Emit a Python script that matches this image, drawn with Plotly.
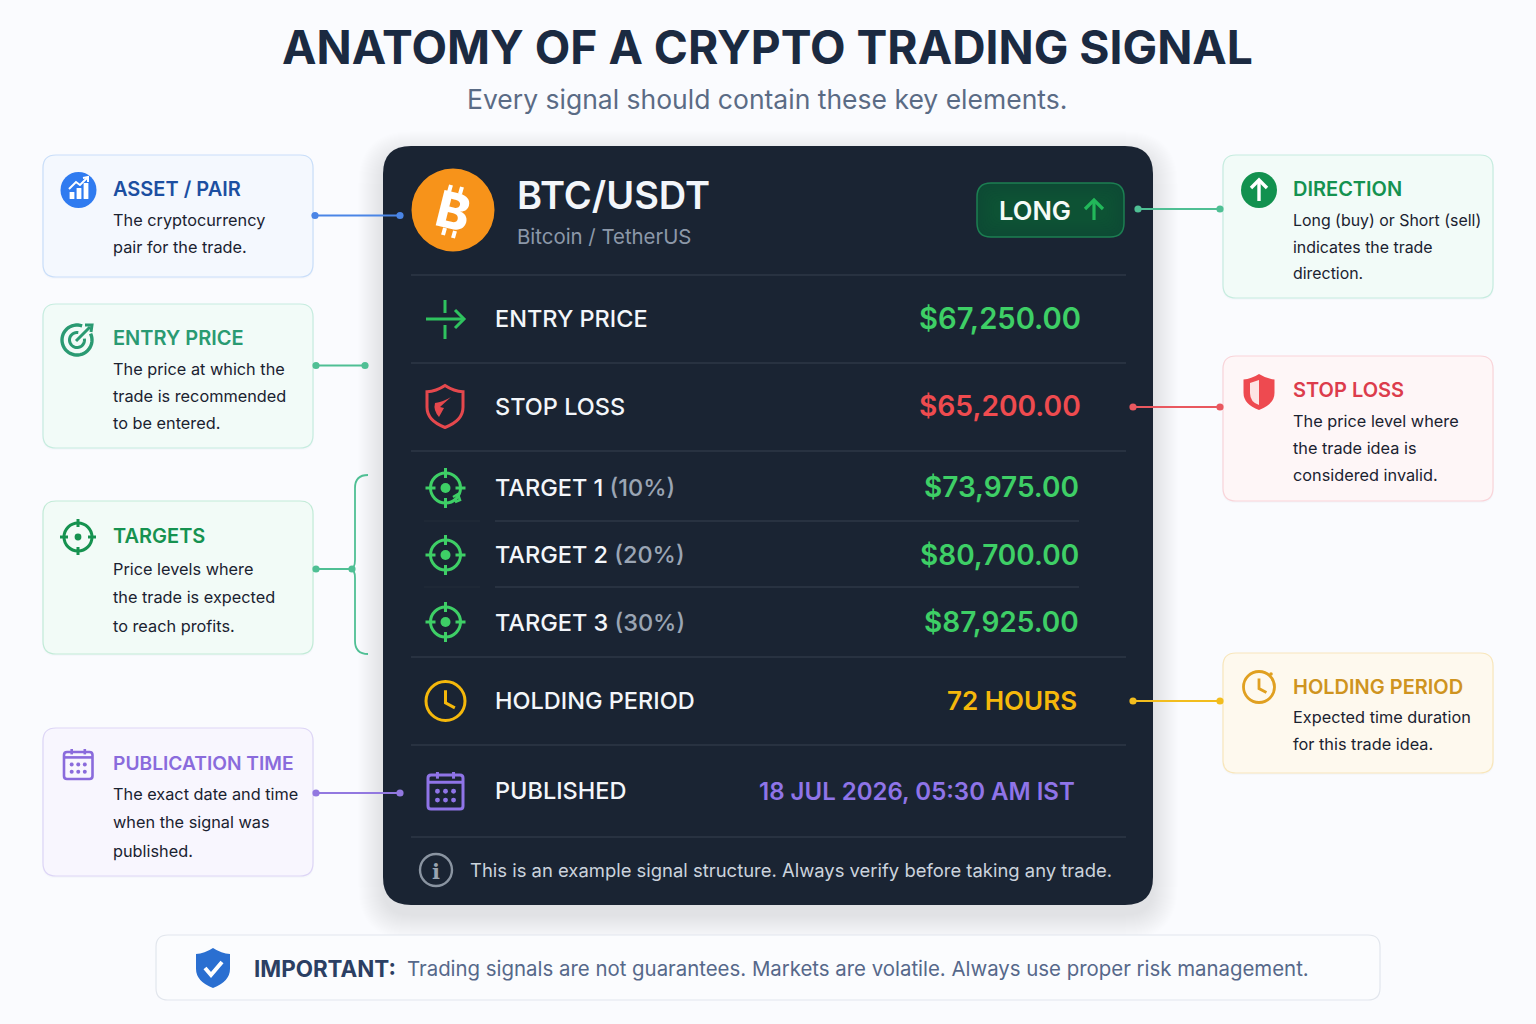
from __future__ import annotations

import math

import plotly.graph_objects as go

WIDTH = 1536
HEIGHT = 1024
FONT = "Inter"

TITLE = "ANATOMY OF A CRYPTO TRADING SIGNAL"
SUBTITLE = "Every signal should contain these key elements."

PAIR = "BTC/USDT"
PAIR_NAME = "Bitcoin / TetherUS"
SIDE = "LONG"

ROW_LABELS = ["ENTRY PRICE", "STOP LOSS", "TARGET 1", "TARGET 2", "TARGET 3", "HOLDING PERIOD", "PUBLISHED"]
ROW_NOTES = ["", "", "(10%)", "(20%)", "(30%)", "", ""]
ROW_VALUES = [
    "$67,250.00",
    "$65,200.00",
    "$73,975.00",
    "$80,700.00",
    "$87,925.00",
    "72 HOURS",
    "18 JUL 2026, 05:30 AM IST",
]
FOOTNOTE = "This is an example signal structure. Always verify before taking any trade."

LEFT_TITLES = ["ASSET / PAIR", "ENTRY PRICE", "TARGETS", "PUBLICATION TIME"]
LEFT_LINES = [
    ["The cryptocurrency", "pair for the trade."],
    ["The price at which the", "trade is recommended", "to be entered."],
    ["Price levels where", "the trade is expected", "to reach profits."],
    ["The exact date and time", "when the signal was", "published."],
]
RIGHT_TITLES = ["DIRECTION", "STOP LOSS", "HOLDING PERIOD"]
RIGHT_LINES = [
    ["Long (buy) or Short (sell)", "indicates the trade", "direction."],
    ["The price level where", "the trade idea is", "considered invalid."],
    ["Expected time duration", "for this trade idea."],
]

NOTICE_HEAD = "IMPORTANT:"
NOTICE_BODY = "Trading signals are not guarantees. Markets are volatile. Always use proper risk management."

BG = "#fafbfe"
CARD = "#1a2433"
RULE = "#364151"
GREEN = "#3ecf66"
RED = "#ef4b4f"
AMBER = "#f5b80b"
PURPLE = "#8f74e8"

shapes: list[dict] = []
notes: list[dict] = []


def _rounded(x0: float, y0: float, x1: float, y1: float, r: float) -> str:
    return (
        f"M{x0 + r},{y0} L{x1 - r},{y0} Q{x1},{y0} {x1},{y0 + r} "
        f"L{x1},{y1 - r} Q{x1},{y1} {x1 - r},{y1} "
        f"L{x0 + r},{y1} Q{x0},{y1} {x0},{y1 - r} "
        f"L{x0},{y0 + r} Q{x0},{y0} {x0 + r},{y0} Z"
    )


def _box(x0, y0, x1, y1, r, fill, line=None, width=1.0) -> None:
    shapes.append(
        dict(
            type="path",
            path=_rounded(x0, y0, x1, y1, r),
            fillcolor=fill,
            line=dict(color=line or "rgba(0,0,0,0)", width=width if line else 0),
        )
    )


def _poly(points, color, width=2.0, fill=None, closed=False) -> None:
    path = "M" + " L".join(f"{x},{y}" for x, y in points) + (" Z" if closed else "")
    shapes.append(
        dict(
            type="path",
            path=path,
            fillcolor=fill or "rgba(0,0,0,0)",
            line=dict(color=color, width=width),
        )
    )


def _curve(path, color, width=2.0, fill=None) -> None:
    shapes.append(
        dict(
            type="path",
            path=path,
            fillcolor=fill or "rgba(0,0,0,0)",
            line=dict(color=color or "rgba(0,0,0,0)", width=width if color else 0),
        )
    )


def _circle(cx, cy, r, fill=None, line=None, width=2.0) -> None:
    shapes.append(
        dict(
            type="circle",
            x0=cx - r,
            x1=cx + r,
            y0=cy - r,
            y1=cy + r,
            fillcolor=fill or "rgba(0,0,0,0)",
            line=dict(color=line or "rgba(0,0,0,0)", width=width if line else 0),
        )
    )


def _arc(cx, cy, r, start, end, color, width=2.0) -> None:
    steps = 40
    points = []
    for i in range(steps + 1):
        angle = math.radians(start + (end - start) * i / steps)
        points.append((cx + r * math.cos(angle), cy + r * math.sin(angle)))
    _poly(points, color, width)


def _text(x, y, text, size, color, weight=400, anchor="left", font=FONT, angle=0) -> None:
    notes.append(
        dict(
            x=x,
            y=y,
            text=text,
            showarrow=False,
            xanchor=anchor,
            yanchor="middle",
            borderpad=0,
            textangle=angle,
            font=dict(family=font, size=size, color=color, weight=weight),
        )
    )


def _shield_path(cx, cy, w, h) -> str:
    left, right = cx - w / 2, cx + w / 2
    top, bottom = cy - h / 2, cy + h / 2
    return (
        f"M{cx},{top} Q{cx + w * 0.25},{top + h * 0.14} {right},{top + h * 0.15} "
        f"L{right},{cy + h * 0.02} Q{right},{cy + h * 0.34} {cx},{bottom} "
        f"Q{left},{cy + h * 0.34} {left},{cy + h * 0.02} "
        f"L{left},{top + h * 0.15} Q{cx - w * 0.25},{top + h * 0.14} {cx},{top} Z"
    )


def _crosshair(cx, cy, r, tick, dot, color, width) -> None:
    _circle(cx, cy, r, line=color, width=width)
    _circle(cx, cy, dot, fill=color)
    _poly([(cx, cy - r - tick), (cx, cy - r + tick)], color, width)
    _poly([(cx, cy + r - tick), (cx, cy + r + tick)], color, width)
    _poly([(cx - r - tick, cy), (cx - r + tick, cy)], color, width)
    _poly([(cx + r - tick, cy), (cx + r + tick, cy)], color, width)


def _calendar(x0, y0, x1, y1, color, width) -> None:
    _box(x0, y0 + 3, x1, y1, 3, "rgba(0,0,0,0)", color, width)
    w = x1 - x0
    h = y1 - y0
    head = y0 + h * 0.28
    _poly([(x0, head), (x1, head)], color, width)
    _poly([(x0 + w * 0.27, y0), (x0 + w * 0.27, y0 + h * 0.18)], color, width)
    _poly([(x0 + w * 0.73, y0), (x0 + w * 0.73, y0 + h * 0.18)], color, width)
    for row in (0.52, 0.76):
        for col in (0.27, 0.5, 0.73):
            _circle(x0 + w * col, y0 + h * row, w * 0.07, fill=color)


def _clock(cx, cy, r, color, width) -> None:
    _circle(cx, cy, r, line=color, width=width)
    _poly([(cx, cy - r * 0.55), (cx, cy + r * 0.1), (cx + r * 0.48, cy + r * 0.35)], color, width)


def _connector(x0, x1, y, color) -> None:
    _poly([(x0, y), (x1, y)], color, 2)
    _circle(x0, y, 3.6, fill=color)
    _circle(x1, y, 3.6, fill=color)


def _callout(x0, y0, x1, y1, fill, line, title, title_y, title_color, title_size, lines, line_ys, body_size) -> None:
    _box(x0 - 1, y0, x1 + 1, y1 + 2, 14, "rgba(60,80,120,0.025)")
    _box(x0, y0, x1, y1, 13, fill, line, 1.2)
    text_x = x0 + 68.5
    _text(text_x, title_y, title, title_size, title_color, 600)
    for text, y in zip(lines, line_ys):
        _text(text_x, y, text, body_size, "#1a2230", 400)


def _draw_page() -> None:
    _text(767, 47, TITLE, 46.2, "#1b2a41", 700, "center")
    _text(767, 98.5, SUBTITLE, 26.5, "#5a6b85", 400, "center")

    # soft shadow under the dark card
    for spread in range(1, 26):
        _box(383 - spread, 146 + 10 - spread, 1153 + spread, 905 + 10 + spread, 28 + spread, "rgba(40,60,95,0.0055)")
    _box(383, 146, 1153, 905, 28, CARD)

    for y in (275, 363, 451, 657, 745, 837):
        _poly([(411, y), (1126, y)], RULE, 1.2)
    _poly([(424, 521), (480, 521)], "#222c3b", 1)
    _poly([(495, 521), (1079, 521)], RULE, 1)
    _poly([(424, 587), (480, 587)], "#222c3b", 1)
    _poly([(495, 587), (1079, 587)], RULE, 1)


def _draw_header() -> None:
    _circle(453, 210, 41.5, fill="#f7931a")
    _poly([(449, 192), (451, 185)], "#ffffff", 4)
    _poly([(460, 194), (462, 187)], "#ffffff", 4)
    _poly([(445, 228), (443, 235)], "#ffffff", 4)
    _poly([(455, 231), (453, 238)], "#ffffff", 4)
    _text(453, 211, "B", 50, "#ffffff", 800, "center", angle=14)

    _text(515.5, 194.5, PAIR, 38, "#f3f6fa", 600)
    _text(515.5, 236, PAIR_NAME, 20.4, "#8c98a9", 400)

    # pill with a soft inner glow
    _box(977, 183, 1124, 237, 14, "#0d4a34", "#1c7f52", 1.5)
    for inset in range(2, 18, 2):
        _box(977 + inset, 183 + inset, 1124 - inset, 237 - inset, 13, "rgba(24,110,72,0.06)")
    _text(997.5, 210.5, SIDE, 25.6, "#f5fbf7", 600)
    _poly([(1094, 220), (1094, 201)], "#22b85a", 3.2)
    _poly([(1085, 209), (1094, 200), (1103, 209)], "#22b85a", 3.2)


def _draw_rows() -> None:
    label_ys = [318, 406, 487, 554, 622, 700, 790]
    value_ys = [318, 406, 487, 555, 622, 700, 791]
    value_xs = [1082, 1082, 1080, 1080, 1080, 1078, 1076]
    value_sizes = [29.2, 28.2, 28, 28, 28, 26, 24]
    value_colors = [GREEN, RED, GREEN, GREEN, GREEN, AMBER, PURPLE]
    for label, note, value, ly, vy, vx, size, color in zip(
        ROW_LABELS, ROW_NOTES, ROW_VALUES, label_ys, value_ys, value_xs, value_sizes, value_colors
    ):
        text = label
        if note:
            text += f' <span style="fill:#9aa5b4">{note}</span>'
        _text(494, ly, text, 23.5, "#f3f6fa", 500)
        _text(vx, vy, value, size, color, 600, "right")

    # entry icon
    _poly([(426, 319), (464, 319)], "#2fc35f", 3)
    _poly([(455, 310), (464, 319), (455, 328)], "#2fc35f", 3)
    _poly([(445, 300), (445, 313)], "#2fc35f", 3)
    _poly([(445, 325), (445, 339)], "#2fc35f", 3)

    # stop icon
    _curve(_shield_path(445, 406.5, 36, 42), "#e5484d", 3)
    _curve("M451,397 L440,407 L444,408 L439,417 Q433,410 435,403 Q443,402 451,397 Z", None, fill="#e5484d")

    for cy in (488, 555, 622):
        _crosshair(445.5, cy, 15, 5, 5, GREEN, 3)
    _poly([(453, 497), (458, 494), (460, 500), (455, 502)], GREEN, 2.5)

    _clock(445.5, 701, 19.5, AMBER, 3)
    _calendar(428, 772, 463, 809, PURPLE, 3)

    _circle(436, 870, 16, line="#8a94a1", width=2.4)
    _text(436, 871, "i", 21, "#9aa4b1", 700, "center", font="DejaVu Serif")
    _text(468.5, 870, FOOTNOTE, 18.45, "#cbd3dd", 400)


def _draw_left() -> None:
    boxes = [(155, 277), (304, 448), (501, 654), (728, 876)]
    fills = ["#f4f8fe", "#f2fbf8", "#f2fbf7", "#f8f6fe"]
    lines = ["#c9def9", "#c6ecdf", "#c2ebd7", "#ddd5f6"]
    title_colors = ["#1c4fa1", "#2a9a72", "#169250", "#8a6bdc"]
    title_sizes = [20, 20, 20, 19.2]
    title_ys = [189, 338, 536, 763]
    line_ys = [[220, 247], [369, 396, 423], [569, 597, 626], [794, 822, 851]]
    for (y0, y1), fill, line, title, color, tsize, ty, text, ys in zip(
        boxes, fills, lines, LEFT_TITLES, title_colors, title_sizes, title_ys, LEFT_LINES, line_ys
    ):
        _callout(43, y0, 313, y1, fill, line, title, ty, color, tsize, text, ys, 16.3)

    _connector(315, 400, 215.5, "#4a85e6")
    _connector(316, 365, 365.5, "#4fbf94")
    _connector(316, 352, 569, "#4fbf94")
    _connector(316, 400, 793, "#9278e0")
    _curve("M368,475 Q355,475 355,488 L355,560 Q355,569 350,569 Q355,569 355,578 L355,641 Q355,654 368,654", "#4fbf94", 1.8)

    # asset icon
    _circle(78.5, 190, 18, fill="#2f7bf0")
    for x, top in ((72, 192), (79, 188), (86, 183)):
        _box(x - 2.4, top, x + 2.4, 199, 0.6, "#ffffff")
    _poly([(69, 189), (76, 182), (80, 185), (87, 178)], "#ffffff", 2)
    _poly([(83, 178), (88, 177), (88, 182)], "#ffffff", 2)

    # entry icon
    _arc(77, 340, 15, -25, 290, "#2a9a72", 3.4)
    _arc(77, 340, 7.5, -10, 280, "#2a9a72", 3)
    _poly([(76, 341), (90, 327)], "#2a9a72", 3)
    _poly([(85, 325), (92, 325), (91, 332)], "#2a9a72", 3)

    # targets icon
    _crosshair(78, 537, 14, 4, 3.4, "#169250", 3)

    _calendar(64, 749, 92.5, 779, "#8a6bdc", 2.6)


def _draw_right() -> None:
    boxes = [(155, 298), (356, 501), (653, 773)]
    fills = ["#f2fbf8", "#fef6f7", "#fef9ee"]
    lines = ["#c6ecdf", "#f9d4d9", "#f8e6bb"]
    title_colors = ["#149250", "#dc3c4c", "#cf9420"]
    title_ys = [189, 390, 687]
    line_ys = [[220, 247, 273], [421, 448, 475], [717, 744]]
    body_sizes = [15.9, 16.3, 16.3]
    for (y0, y1), fill, line, title, color, ty, text, ys, bsize in zip(
        boxes, fills, lines, RIGHT_TITLES, title_colors, title_ys, RIGHT_LINES, line_ys, body_sizes
    ):
        _callout(1223, y0, 1493, y1, fill, line, title, ty, color, 20, text, ys, bsize)

    _connector(1138, 1220, 209, "#4fbf94")
    _connector(1133, 1220, 407, "#e9585f")
    _connector(1133, 1220, 701, "#f2bd1e")

    _circle(1259, 190, 18, fill="#12914f")
    _poly([(1259, 201), (1259, 181)], "#ffffff", 3.4)
    _poly([(1251, 188), (1259, 180), (1267, 188)], "#ffffff", 3.4)

    _curve(_shield_path(1259, 392, 31, 36), None, fill="#ee4a50")
    _curve("M1259,380 L1250,383 L1250,393 Q1250,402 1259,405 Z", None, fill="#fde4e4")

    _clock(1259, 687, 15.5, "#e0a021", 2.8)
    _circle(1271, 674, 1.8, fill="#e0a021")


def _draw_notice() -> None:
    _box(156, 935, 1380, 1000, 12, "#fbfcfe", "#e2e6ed", 1.2)
    _curve(_shield_path(213, 968, 34, 40), None, fill="#2a6fd1")
    _poly([(205, 968), (211, 975), (222, 962)], "#ffffff", 4)
    _text(252.5, 968, NOTICE_HEAD, 22.4, "#2b3f63", 700)
    _text(405.5, 968, NOTICE_BODY, 20.4, "#56688a", 400)


def main() -> None:
    _draw_page()
    _draw_header()
    _draw_rows()
    _draw_left()
    _draw_right()
    _draw_notice()

    fig = go.Figure()
    fig.update_layout(
        width=WIDTH,
        height=HEIGHT,
        margin=dict(l=0, r=0, t=0, b=0),
        paper_bgcolor=BG,
        plot_bgcolor=BG,
        showlegend=False,
        xaxis=dict(range=[0, WIDTH], visible=False, fixedrange=True),
        yaxis=dict(range=[HEIGHT, 0], visible=False, fixedrange=True),
        shapes=shapes,
        annotations=notes,
    )
    fig.write_html(
        "out.html",
        config=dict(displayModeBar=False),
        post_script="document.body.style.margin='0';document.documentElement.style.background='#fafbfe';",
    )


if __name__ == "__main__":
    main()
